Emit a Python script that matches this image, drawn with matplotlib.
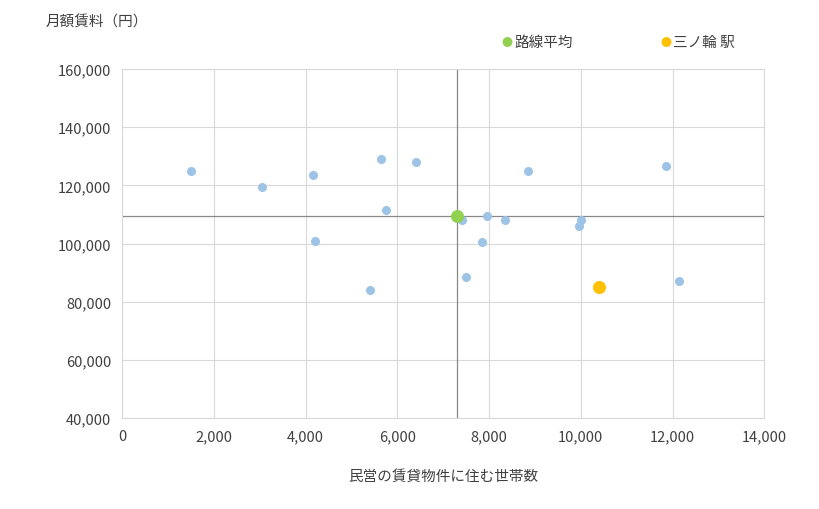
import matplotlib.pyplot as plt
from matplotlib.ticker import FuncFormatter

plt.rcParams['font.family'] = ['Noto Sans CJK JP', 'DejaVu Sans']

stations_x = [1500, 3050, 4150, 4200, 5400, 5650, 5750, 6400, 7400, 7500,
              7850, 7950, 8350, 8850, 9950, 10000, 11850, 12150]
stations_y = [125000, 119500, 123500, 101000, 84000, 129000, 111500, 128000, 108000, 88500,
              100500, 109500, 108000, 125000, 106000, 108000, 126500, 87000]
avg_x, avg_y = 7300, 109500
target_x, target_y = 10400, 85000

fig = plt.figure(figsize=(8.2, 5.1), dpi=100)
ax = fig.add_axes([0.149, 0.178, 0.783, 0.685])

ax.scatter(stations_x, stations_y, s=30, color='#9dc3e6', zorder=3)
ax.scatter([avg_x], [avg_y], s=70, color='#92d050', zorder=4)
ax.scatter([target_x], [target_y], s=70, color='#ffc000', zorder=4)
ax.axvline(avg_x, color='#888888', lw=0.9, zorder=2)
ax.axhline(avg_y, color='#888888', lw=0.9, zorder=2)

ax.set_xlim(0, 14000)
ax.set_ylim(40000, 160000)
ax.set_xticks(range(0, 14001, 2000))
ax.set_yticks(range(40000, 160001, 20000))
fmt = FuncFormatter(lambda v, p: f'{int(v):,}')
ax.xaxis.set_major_formatter(fmt)
ax.yaxis.set_major_formatter(fmt)
ax.grid(True, color='#d9d9d9', lw=0.8, zorder=0)
for s in ax.spines.values():
    s.set_color('#d9d9d9')
ax.tick_params(length=0, labelsize=10.5, colors='#404040', pad=8)

ax.set_xlabel('民営の賃貸物件に住む世帯数', fontsize=10.5, color='#404040', labelpad=18)
fig.text(0.055, 0.955, '月額賃料（円）', fontsize=10.5, color='#404040', va='center')

fig.text(0.612, 0.915, '●', color='#92d050', fontsize=8, va='center')
fig.text(0.628, 0.915, '路線平均', color='#404040', fontsize=10.5, va='center')
fig.text(0.805, 0.915, '●', color='#ffc000', fontsize=8, va='center')
fig.text(0.821, 0.915, '三ノ輪 駅', color='#404040', fontsize=10.5, va='center')

fig.savefig('out.png', dpi=100)
